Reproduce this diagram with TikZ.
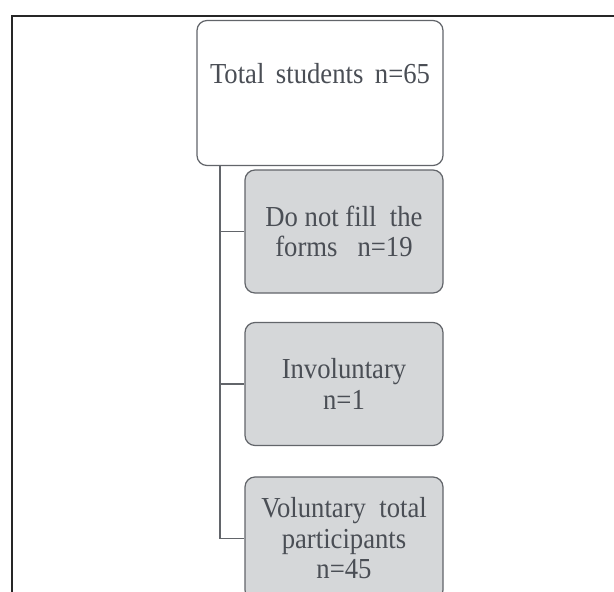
\documentclass[tikz,border=0pt]{standalone}
\usepackage{fontspec}
\setmainfont{Liberation Serif}[FakeStretch=0.92]
\usetikzlibrary{positioning}
\definecolor{boxgray}{HTML}{D5D7D9}
\definecolor{edgegray}{HTML}{62656A}
\definecolor{inkgray}{HTML}{4A4E55}
\tikzset{
    stepbox/.style={draw=edgegray,line width=1.2pt,rounded corners=10pt,
        fill=boxgray,minimum width=198pt,minimum height=123pt,
        align=center,text=inkgray,font=\fontsize{29}{30.5}\selectfont},
    topbox/.style={stepbox,fill=white,minimum width=246pt,minimum height=145pt}
}
\begin{document}
\begin{tikzpicture}[x=1pt,y=-1pt]
    \useasboundingbox (0,0) rectangle (614,592);
    \clip (0,0) rectangle (614,592);
    \fill[white] (0,0) rectangle (614,592);
    \draw[black!85,line width=1.6pt] (614,16) -- (12,16) -- (12,592);
    \node[topbox] (total) at (320,93) {Total \,students \,n=65\\ \strut};
    \node[stepbox] (nofill) at (344,231.5) {Do not fill \ the\\forms \ \ n=19};
    \node[stepbox] (invol) at (344,384) {Involuntary\\n=1};
    \node[stepbox] (volun) at (344,538.5) {Voluntary \ total\\participants\\n=45};
    \coordinate (trunk) at (220,0);
    \draw[edgegray,line width=1.2pt] (trunk |- total.south) |- (volun.west);
    \foreach \b in {nofill,invol}
        \draw[edgegray,line width=1.2pt] (trunk |- \b.west) -- (\b.west);
\end{tikzpicture}
\end{document}
